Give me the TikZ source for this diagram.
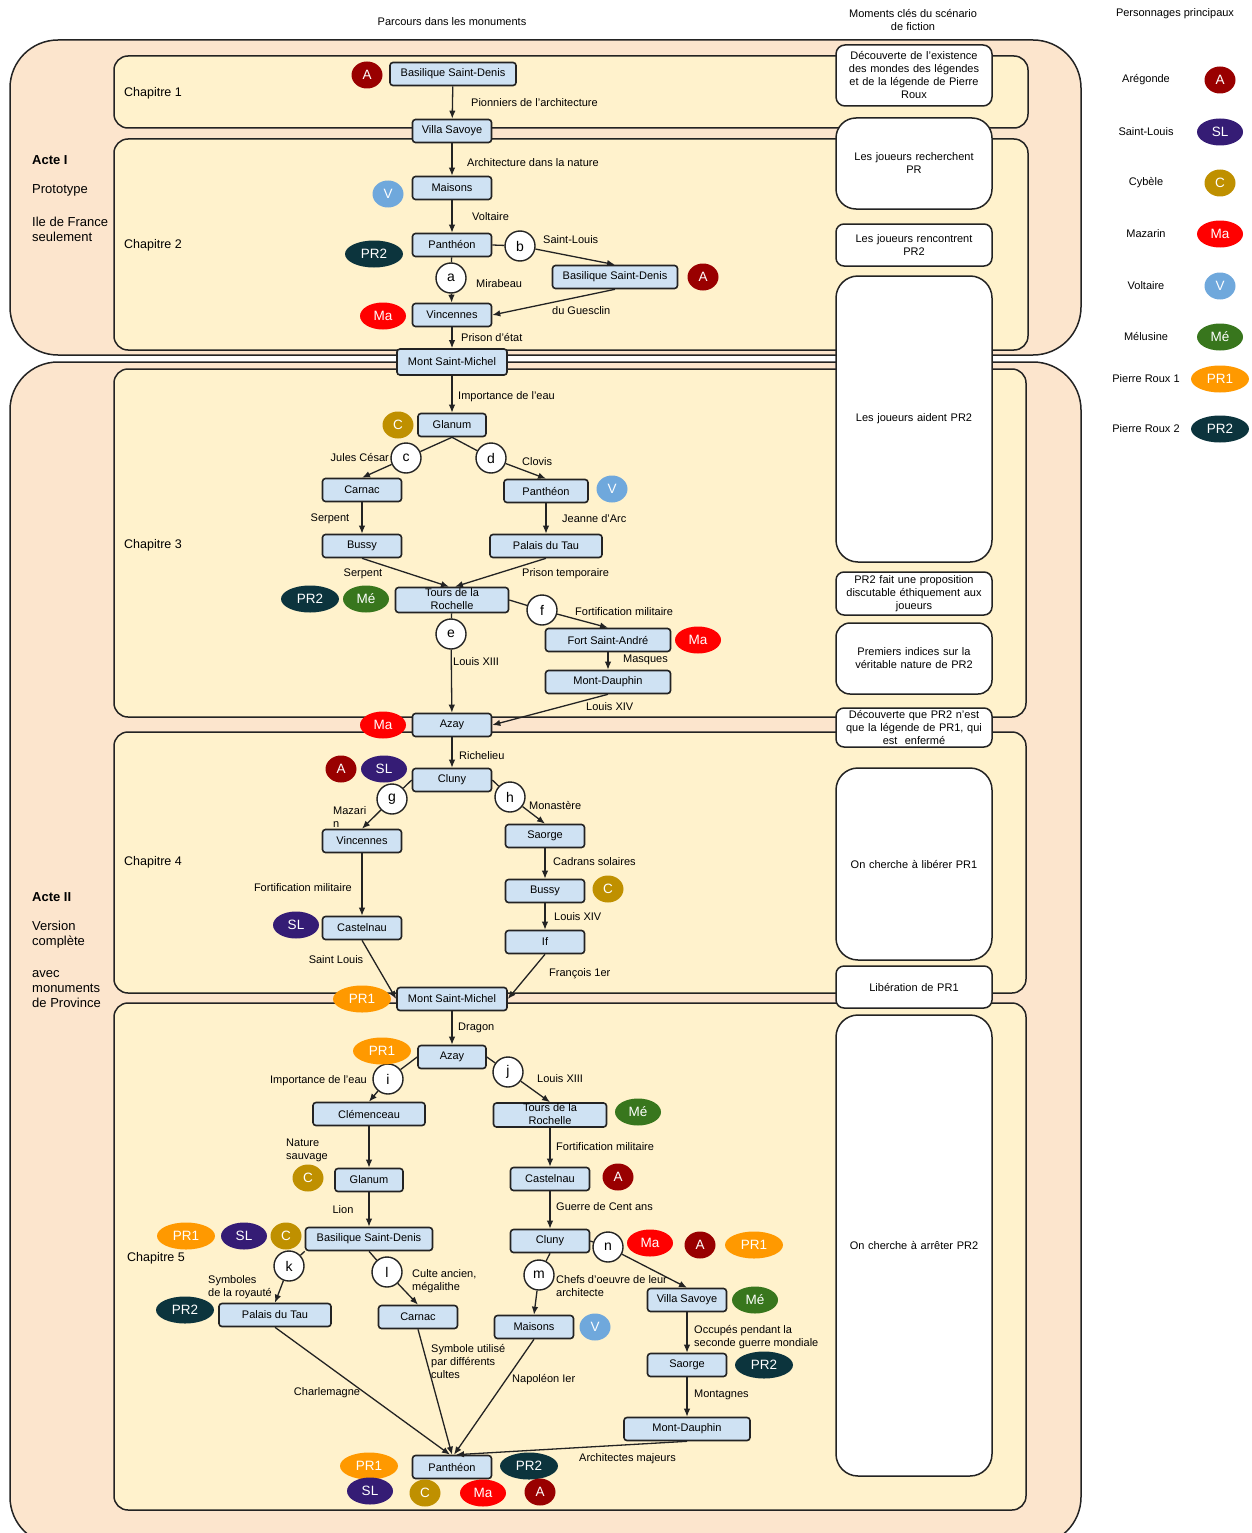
\documentclass[tikz,border=0pt]{standalone}
\usepackage{fontspec}
\setmainfont{Liberation Sans}
\usetikzlibrary{positioning,arrows.meta,shapes.geometric}
\definecolor{scenActe}{RGB}{252,229,205}
\definecolor{scenChap}{RGB}{255,242,204}
\definecolor{scenBox}{RGB}{207,226,243}
\definecolor{scenLine}{RGB}{35,35,35}
\definecolor{persA}{RGB}{153,0,0}
\definecolor{persSL}{RGB}{53,28,117}
\definecolor{persC}{RGB}{191,144,0}
\definecolor{persMa}{RGB}{255,0,0}
\definecolor{persV}{RGB}{111,168,220}
\definecolor{persMe}{RGB}{56,118,29}
\definecolor{persPRa}{RGB}{255,153,0}
\definecolor{persPRb}{RGB}{12,52,61}
\newcommand{\deuxlignes}[2]{\smash{\raisebox{-3.5pt}{\begin{tabular}{@{}c@{}}#1\\#2\end{tabular}}}}

\begin{document}
\begin{tikzpicture}[x=1pt,y=-1pt,
    font=\fontsize{11}{13}\selectfont,
    mon/.style={draw=scenLine,line width=1.6pt,fill=scenBox,rounded corners=3pt,
      minimum width=79pt,minimum height=23pt,inner sep=0pt},
    etape/.style={circle,draw=scenLine,line width=1.4pt,fill=white,minimum size=30pt,
      inner sep=0pt,font=\fontsize{14}{14}\selectfont},
    badge/.style={ellipse,text=white,minimum height=27pt,inner sep=0pt,
      font=\fontsize{13.5}{14}\selectfont},
    pA/.style={badge,fill=persA,minimum width=31pt},
    pSL/.style={badge,fill=persSL,minimum width=46pt},
    pC/.style={badge,fill=persC,minimum width=31pt},
    pMa/.style={badge,fill=persMa,minimum width=46pt},
    pV/.style={badge,fill=persV,minimum width=31pt},
    pMe/.style={badge,fill=persMe,minimum width=46pt},
    pPRa/.style={badge,fill=persPRa,minimum width=58pt},
    pPRb/.style={badge,fill=persPRb,minimum width=58pt},
    moment/.style={draw=scenLine,line width=1.5pt,fill=white,text width=154pt,
      align=center,inner sep=1pt},
    lien/.style={draw=scenLine,line width=1.3pt},
    fleche/.style={lien,-{Latex[length=8pt,width=6.5pt]}},
    lbl/.style={inner sep=0pt},
    chap/.style={inner sep=0pt,anchor=west,font=\fontsize{12.5}{14}\selectfont},
    acte/.style={inner sep=0pt,anchor=west,align=left,font=\fontsize{13}{15}\selectfont}]
  \useasboundingbox (0,0) rectangle (1252,1533);
  \clip (0,0) rectangle (1252,1533);
  % actes
  \filldraw[fill=scenActe,draw=scenLine,line width=1.5pt,rounded corners=48pt] (10,40) rectangle (1081,355);
  \filldraw[fill=scenActe,draw=scenLine,line width=1.5pt,rounded corners=48pt] (10,362) rectangle (1081,1545);
  % chapitres
  \foreach \ya/\yb/\xb in {56/128/1028, 139/350/1028, 369/717/1026, 732/993/1026, 1003/1510/1026}
    \filldraw[fill=scenChap,draw=scenLine,line width=1.5pt,rounded corners=14pt] (114,\ya) rectangle (\xb,\yb);

  % titres
  \node[lbl] (hParcours) at (452,22) {Parcours dans les monuments};
  \node[lbl,align=center] (hMoments) at (913,20) {Moments clés du scénario\\de fiction};
  \node[lbl] (hPerso) at (1175,14) {Personnages principaux};
  \node[acte,font=\fontsize{13}{15}\selectfont\bfseries] (acteA) at (32,160) {Acte I};
  \node[acte] (protoA) at (32,190) {Prototype};
  \node[acte] (ileA) at (32,229) {Ile de France\\seulement};
  \node[acte,font=\fontsize{13}{15}\selectfont\bfseries] (acteB) at (32,897) {Acte II};
  \node[acte] (versionB) at (32,935) {Version\\complète};
  \node[acte] (avecB) at (32,989) {avec\\monuments\\de Province};
  \node[chap] (chapA) at (124,93) {Chapitre 1};
  \node[chap] (chapB) at (124,245) {Chapitre 2};
  \node[chap] (chapC) at (124,545) {Chapitre 3};
  \node[chap] (chapD) at (124,862) {Chapitre 4};
  \node[chap] (chapE) at (127,1258) {Chapitre 5};

  % moments cles
  \node[moment,rounded corners=9pt,minimum height=61pt] (mDecouverte) at (914,75.5)
    {Découverte de l'existence\\des mondes des légendes\\et de la légende de Pierre\\Roux};
  \node[moment,rounded corners=20pt,minimum height=91pt] (mRecherche) at (914,163.5)
    {Les joueurs recherchent\\PR};
  \node[moment,rounded corners=8pt,minimum height=42pt] (mRencontre) at (914,245)
    {Les joueurs rencontrent\\PR2};
  \node[moment,rounded corners=22pt,minimum height=286pt] (mAide) at (914,419)
    {Les joueurs aident PR2};
  \node[moment,rounded corners=8pt,minimum height=43pt] (mProposition) at (914,593.5)
    {PR2 fait une proposition\\discutable éthiquement aux\\joueurs};
  \node[moment,rounded corners=14pt,minimum height=71pt] (mIndices) at (914,658.5)
    {Premiers indices sur la\\véritable nature de PR2};
  \node[moment,rounded corners=8pt,minimum height=39pt] (mLegende) at (914,727.5)
    {Découverte que PR2 n'est\\que la légende de PR1, qui\\est~~enfermé};
  \node[moment,rounded corners=22pt,minimum height=192pt] (mLiberer) at (914,864)
    {On cherche à libérer PR1};
  \node[moment,rounded corners=8pt,minimum height=42pt] (mLiberation) at (914,987)
    {Libération de PR1};
  \node[moment,rounded corners=22pt,minimum height=461pt] (mArreter) at (914,1245.5)
    {On cherche à arrêter PR2};

  % legende
  \foreach \id/\nm/\y/\st/\ab in {A/Arégonde/80/pA/A, SL/Saint-Louis/132/pSL/SL, C/Cybèle/183/pC/C,
      Ma/Mazarin/234/pMa/Ma, V/Voltaire/286/pV/V, Me/Mélusine/337/pMe/Mé,
      PRa/Pierre Roux 1/379/pPRa/PR1, PRb/Pierre Roux 2/429/pPRb/PR2} {
    \node[lbl] (nom\id) at (1146,\y) {\nm};
    \node[\st] (perso\id) at (1220,\y) {\ab};
  }

  % chapitres 1 et 2
  \node[mon,minimum width=126pt] (bsdA) at (453,74) {Basilique Saint-Denis};
  \node[mon] (villaA) at (452,131) {Villa Savoye};
  \node[mon] (maisonsA) at (452,188) {Maisons};
  \node[mon] (pantheonA) at (452,245) {Panthéon};
  \node[mon,minimum width=125pt] (bsdB) at (615,277) {Basilique Saint-Denis};
  \node[mon] (vincA) at (452,315) {Vincennes};
  \node[mon,minimum width=110pt,minimum height=26pt] (msmA) at (452,362) {Mont Saint-Michel};
  \node[etape] (ea) at (451,278) {a};
  \node[etape] (eb) at (520,246) {b};
  % chapitre 3
  \node[mon,minimum width=68pt] (glanumA) at (452,425) {Glanum};
  \node[etape] (ec) at (406,458) {c};
  \node[etape] (ed) at (491,458) {d};
  \node[mon] (carnacA) at (362,490) {Carnac};
  \node[mon,minimum width=84pt] (pantheonB) at (546,491) {Panthéon};
  \node[mon] (bussyA) at (362,546) {Bussy};
  \node[mon,minimum width=112pt] (palaisA) at (546,546) {Palais du Tau};
  \node[mon,minimum width=113pt,minimum height=25pt] (toursA) at (452,600) {\deuxlignes{Tours de la}{Rochelle}};
  \node[etape] (ef) at (542,610) {f};
  \node[mon,minimum width=125pt] (fortA) at (608,640) {Fort Saint-André};
  \node[mon,minimum width=125pt] (mdA) at (608,682) {Mont-Dauphin};
  \node[etape] (ee) at (451,634) {e};
  \node[mon] (azayA) at (452,725) {Azay};
  % chapitre 4
  \node[mon] (clunyA) at (452,780) {Cluny};
  \node[etape] (eg) at (392,799) {g};
  \node[etape] (eh) at (510,797) {h};
  \node[mon] (vincB) at (362,841) {Vincennes};
  \node[mon] (saorgeA) at (545,836) {Saorge};
  \node[mon] (bussyB) at (545,891) {Bussy};
  \node[mon] (castelA) at (362,928) {Castelnau};
  \node[mon] (ifA) at (545,942) {If};
  \node[mon,minimum width=110pt] (msmB) at (452,999) {Mont Saint-Michel};
  % chapitre 5
  \node[mon,minimum width=68pt] (azayB) at (452,1057) {Azay};
  \node[etape] (ei) at (388,1079) {i};
  \node[etape] (ej) at (508,1072) {j};
  \node[mon,minimum width=112pt] (clemA) at (369,1114) {Clémenceau};
  \node[mon,minimum width=113pt,minimum height=24pt] (toursB) at (550,1115) {\deuxlignes{Tours de la}{Rochelle}};
  \node[mon,minimum width=68pt] (glanumB) at (369,1180) {Glanum};
  \node[mon] (castelB) at (550,1179) {Castelnau};
  \node[mon,minimum width=127pt] (bsdC) at (369,1239) {Basilique Saint-Denis};
  \node[mon] (clunyB) at (550,1241) {Cluny};
  \node[etape] (ek) at (289,1266) {k};
  \node[etape] (el) at (387,1272) {l};
  \node[etape] (em) at (539,1275) {m};
  \node[etape] (en) at (608,1247) {n};
  \node[mon,minimum width=112pt] (palaisB) at (275,1315) {Palais du Tau};
  \node[mon] (carnacB) at (418,1317) {Carnac};
  \node[mon] (maisonsB) at (534,1327) {Maisons};
  \node[mon] (villaB) at (687,1300) {Villa Savoye};
  \node[mon] (saorgeB) at (687,1365) {Saorge};
  \node[mon,minimum width=126pt] (mdB) at (687,1429) {Mont-Dauphin};
  \node[mon] (pantheonC) at (452,1467) {Panthéon};

  % personnages sur le parcours
  \foreach \id/\x/\y/\st/\ab in {1/367/75/pA/A, 2/388/194/pV/V, 3/374/254/pPRb/PR2, 4/383/316/pMa/Ma,
      5/703/277/pA/A, 6/398/425/pC/C, 7/612/489/pV/V, 8/310/599/pPRb/PR2, 9/366/599/pMe/Mé,
      10/698/640/pMa/Ma, 11/383/725/pMa/Ma, 12/341/769/pA/A, 13/384/769/pSL/SL, 14/296/925/pSL/SL,
      15/608/889/pC/C, 16/362/999/pPRa/PR1, 17/382/1051/pPRa/PR1, 18/638/1112/pMe/Mé,
      19/308/1178/pC/C, 20/618/1177/pA/A, 21/186/1236/pPRa/PR1, 22/244/1236/pSL/SL,
      23/286/1236/pC/C, 24/650/1243/pMa/Ma, 25/700/1245/pA/A, 26/754/1245/pPRa/PR1,
      27/185/1310/pPRb/PR2, 28/595/1327/pV/V, 29/755/1300/pMe/Mé, 30/764/1365/pPRb/PR2,
      31/369/1466/pPRa/PR1, 32/529/1466/pPRb/PR2, 33/370/1491/pSL/SL, 34/425/1493/pC/C,
      35/483/1493/pMa/Ma, 36/540/1492/pA/A}
    \node[\st] (pb\id) at (\x,\y) {\ab};

  % liens chapitres 1 et 2
  \draw[fleche] (bsdA) -- (villaA);
  \draw[fleche] (villaA) -- (maisonsA);
  \draw[fleche] (maisonsA) -- (pantheonA);
  \draw[lien] (pantheonA) -- (ea);
  \draw[fleche] (ea) -- (vincA);
  \draw[lien] (pantheonA.east) -- (eb);
  \draw[fleche] (eb) -- (bsdB.north);
  \draw[fleche] (bsdB.south) -- (vincA.east);
  \draw[fleche] (vincA) -- (msmA);
  % liens chapitre 3
  \draw[fleche] (msmA) -- (glanumA);
  \draw[lien] (glanumA.south) -- (ec);
  \draw[lien] (glanumA.south) -- (ed);
  \draw[fleche] (ec) -- (carnacA.north);
  \draw[fleche] (ed) -- (pantheonB.north);
  \draw[fleche] (carnacA) -- (bussyA);
  \draw[fleche] (pantheonB) -- (palaisA);
  \draw[fleche] (bussyA.south) -- ([xshift=-3pt]toursA.north);
  \draw[fleche] (palaisA.south) -- ([xshift=3pt]toursA.north);
  \draw[lien] (toursA.east) -- (ef);
  \draw[fleche] (ef) -- (fortA.north);
  \draw[fleche] (fortA) -- (mdA);
  \draw[lien] (toursA) -- (ee);
  \draw[fleche] (ee) -- (azayA);
  \draw[fleche] (mdA.south) -- (azayA.east);
  % liens chapitre 4
  \draw[fleche] (azayA) -- (clunyA);
  \draw[lien] (clunyA.west) -- (eg);
  \draw[fleche] (eg) -- (vincB.north);
  \draw[lien] (clunyA.east) -- (eh);
  \draw[fleche] (eh) -- (saorgeA.north);
  \draw[fleche] (vincB) -- (castelA);
  \draw[fleche] (saorgeA) -- (bussyB);
  \draw[fleche] (bussyB) -- (ifA);
  \draw[fleche] (castelA.south) -- (msmB.west);
  \draw[fleche] (ifA.south) -- (msmB.east);
  % liens chapitre 5
  \draw[fleche] (msmB) -- (azayB);
  \draw[lien] (azayB.west) -- (ei);
  \draw[fleche] (ei) -- (clemA.north);
  \draw[lien] (azayB.east) -- (ej);
  \draw[fleche] (ej) -- (toursB.north);
  \draw[fleche] (clemA) -- (glanumB);
  \draw[fleche] (toursB) -- (castelB);
  \draw[fleche] (glanumB) -- (bsdC);
  \draw[fleche] (castelB) -- (clunyB);
  \draw[lien] (bsdC.south west) -- (ek);
  \draw[fleche] (ek) -- (palaisB.north);
  \draw[lien] (bsdC.south) -- (el);
  \draw[fleche] (el) -- (carnacB.north);
  \draw[lien] (clunyB.south) -- (em);
  \draw[fleche] (em) -- (maisonsB.north);
  \draw[lien] (clunyB.east) -- (en);
  \draw[fleche] (en) -- (villaB.north);
  \draw[fleche] (villaB) -- (saorgeB);
  \draw[fleche] (saorgeB) -- (mdB);
  \draw[fleche] (palaisB.south) -- ([xshift=-2pt]pantheonC.north);
  \draw[fleche] (carnacB.south) -- (pantheonC.north);
  \draw[fleche] (maisonsB.south) -- ([xshift=2pt]pantheonC.north);
  \draw[fleche] (mdB.south) -- ([xshift=4pt]pantheonC.north);

  % etiquettes des liens
  \node[lbl,anchor=west] (tPionniers) at (471,103) {Pionniers de l'architecture};
  \node[lbl,anchor=west] (tArchi) at (467,163) {Architecture dans la nature};
  \node[lbl,anchor=west] (tVoltaire) at (472,217) {Voltaire};
  \node[lbl,anchor=west] (tSaintLouis) at (543,240) {Saint-Louis};
  \node[lbl,anchor=west] (tMirabeau) at (476,284) {Mirabeau};
  \node[lbl,anchor=west] (tGuesclin) at (552,311) {du Guesclin};
  \node[lbl,anchor=west] (tPrison) at (461,338) {Prison d'état};
  \node[lbl,anchor=west] (tEau) at (458,397) {Importance de l'eau};
  \node[lbl,anchor=east] (tCesar) at (389,458) {Jules César};
  \node[lbl,anchor=west] (tClovis) at (522,462) {Clovis};
  \node[lbl] (tSerpentA) at (330,519) {Serpent};
  \node[lbl,anchor=west] (tJeanne) at (562,519) {Jeanne d'Arc};
  \node[lbl] (tSerpentB) at (363,574) {Serpent};
  \node[lbl,anchor=west] (tPrisonTemp) at (522,574) {Prison temporaire};
  \node[lbl,anchor=west] (tFortifA) at (575,612) {Fortification militaire};
  \node[lbl,anchor=west] (tMasques) at (623,660) {Masques};
  \node[lbl,anchor=west] (tLouisA) at (453,662) {Louis XIII};
  \node[lbl,anchor=west] (tLouisB) at (586,707) {Louis XIV};
  \node[lbl,anchor=west] (tRichelieu) at (459,756) {Richelieu};
  \node[lbl,anchor=west,align=left] (tMazarin) at (333,817) {Mazari\\n};
  \node[lbl,anchor=west] (tMonastere) at (529,805) {Monastère};
  \node[lbl,anchor=east] (tFortifB) at (352,888) {Fortification militaire};
  \node[lbl,anchor=west] (tCadrans) at (553,862) {Cadrans solaires};
  \node[lbl,anchor=west] (tLouisC) at (554,917) {Louis XIV};
  \node[lbl] (tSaintLouisB) at (336,960) {Saint Louis};
  \node[lbl,anchor=west] (tFrancois) at (549,974) {François 1er};
  \node[lbl,anchor=west] (tDragon) at (458,1028) {Dragon};
  \node[lbl,anchor=east] (tEauB) at (367,1081) {Importance de l'eau};
  \node[lbl,anchor=west] (tLouisD) at (537,1079) {Louis XIII};
  \node[lbl,anchor=west,align=left] (tNature) at (286,1150) {Nature\\sauvage};
  \node[lbl,anchor=west] (tFortifC) at (556,1147) {Fortification militaire};
  \node[lbl] (tLion) at (343,1210) {Lion};
  \node[lbl,anchor=west] (tGuerre) at (556,1207) {Guerre de Cent ans};
  \node[lbl,anchor=west,align=left] (tSymboles) at (208,1287) {Symboles\\de la royauté};
  \node[lbl,anchor=west,align=left] (tCulte) at (412,1281) {Culte ancien,\\mégalithe};
  \node[lbl,anchor=west,align=left] (tChefs) at (556,1286) {Chefs d'oeuvre de leur\\architecte};
  \node[lbl,anchor=west,align=left] (tOccupes) at (694,1337) {Occupés pendant la\\seconde guerre mondiale};
  \node[lbl,anchor=west] (tMontagnes) at (694,1395) {Montagnes};
  \node[lbl,anchor=west,align=left] (tSymbole) at (431,1361) {Symbole utilisé\\par différents\\cultes};
  \node[lbl] (tCharlemagne) at (327,1393) {Charlemagne};
  \node[lbl,anchor=west] (tNapoleon) at (512,1380) {Napoléon Ier};
  \node[lbl,anchor=west] (tArchitectes) at (579,1459) {Architectes majeurs};
\end{tikzpicture}
\end{document}
